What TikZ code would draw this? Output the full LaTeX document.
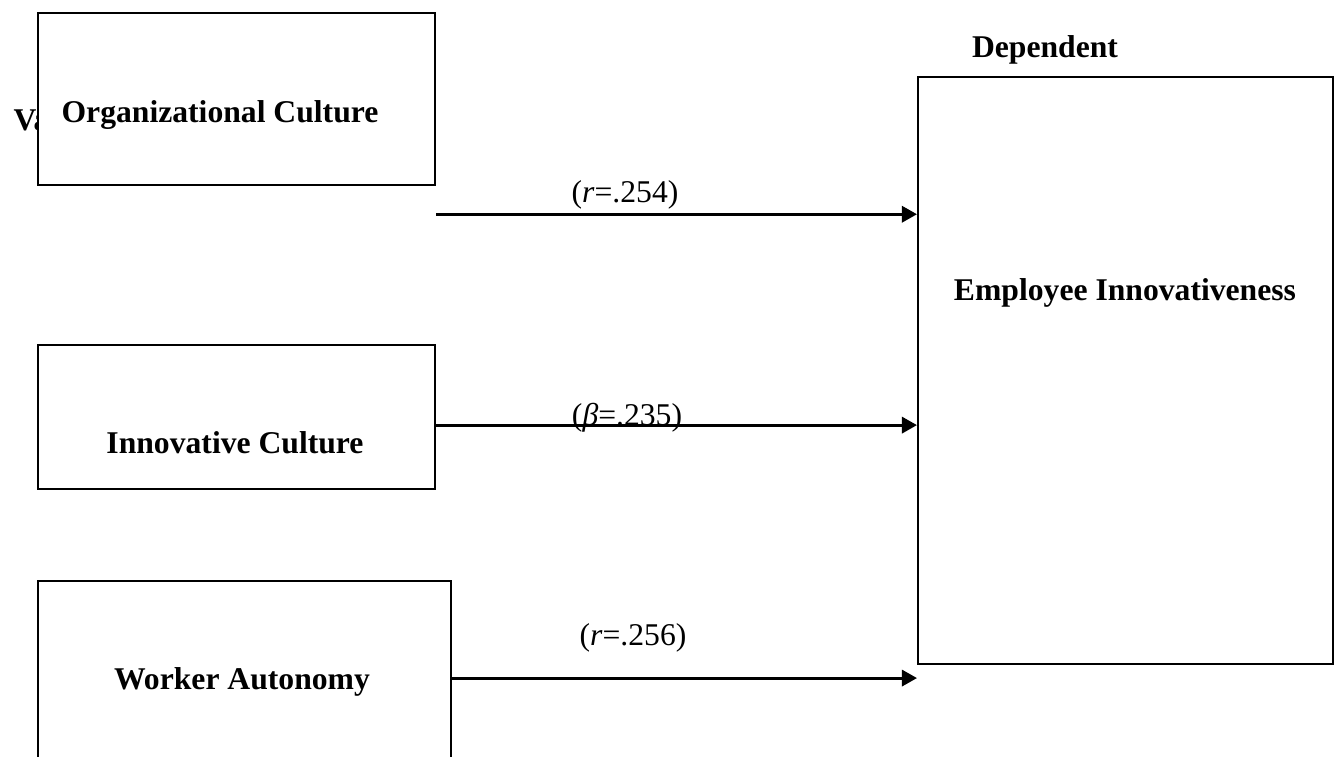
\documentclass[tikz,border=0pt]{standalone}
\usepackage{fontspec}
\setmainfont{Liberation Serif}
\usepackage{tikz}
\usetikzlibrary{arrows.meta, positioning, calc}

\begin{document}
\begin{tikzpicture}[x=0.01cm, y=-0.01cm,
    every node/.style={font=\fontsize{9}{11}\selectfont, inner sep=0pt},
    varbox/.style={draw, fill=white, line width=0.6pt, minimum width=#1, anchor=north west},
    boxtext/.style={font=\fontsize{9}{11}\selectfont\bfseries, anchor=base},
    coef/.style={anchor=base},
    link/.style={line width=0.85pt, -{Triangle[length=4.3pt, width=4.6pt]}}]
  \useasboundingbox (0,0) rectangle (1338,756);
  % heading hidden behind the first box
  \node[boxtext, anchor=base west] (varhead) at (13,130) {Variables};
  \node[boxtext] (dephead) at (1045,57) {Dependent};
  % independent variables
  \node[varbox=3.97cm, minimum height=1.72cm] (org) at (37,12) {};
  \node[varbox=3.97cm, minimum height=1.44cm] (inn) at (37,344) {};
  \node[varbox=4.13cm, minimum height=2.4cm] (wa) at (37,580) {};
  % dependent variable
  \node[varbox=4.15cm, minimum height=5.87cm] (emp) at (917,76) {};
  \node[boxtext] (orgtxt) at (220,122) {Organizational Culture};
  \node[boxtext] (inntxt) at (235,453) {Innovative Culture};
  \node[boxtext] (watxt) at (242,689) {Worker Autonomy};
  \node[boxtext] (emptxt) at (1125,300) {Employee Innovativeness};
  % paths
  \coordinate (from1) at ([yshift=-0.28cm]org.south east);
  \coordinate (from2) at ([yshift=-0.08cm]inn.east);
  \coordinate (from3) at ([yshift=-0.98cm]wa.north east);
  \draw[link] (from1) -- (from1 -| emp.west);
  \draw[link] (from2) -- (from2 -| emp.west);
  \draw[link] (from3) -- (from3 -| emp.west);
  % coefficients
  \node[coef] (c1) at (625,202) {(\textit{r}=.254)};
  \node[coef] (c2) at (627,425) {(\textit{β}=.235)};
  \node[coef] (c3) at (633,645) {(\textit{r}=.256)};
\end{tikzpicture}
\end{document}
